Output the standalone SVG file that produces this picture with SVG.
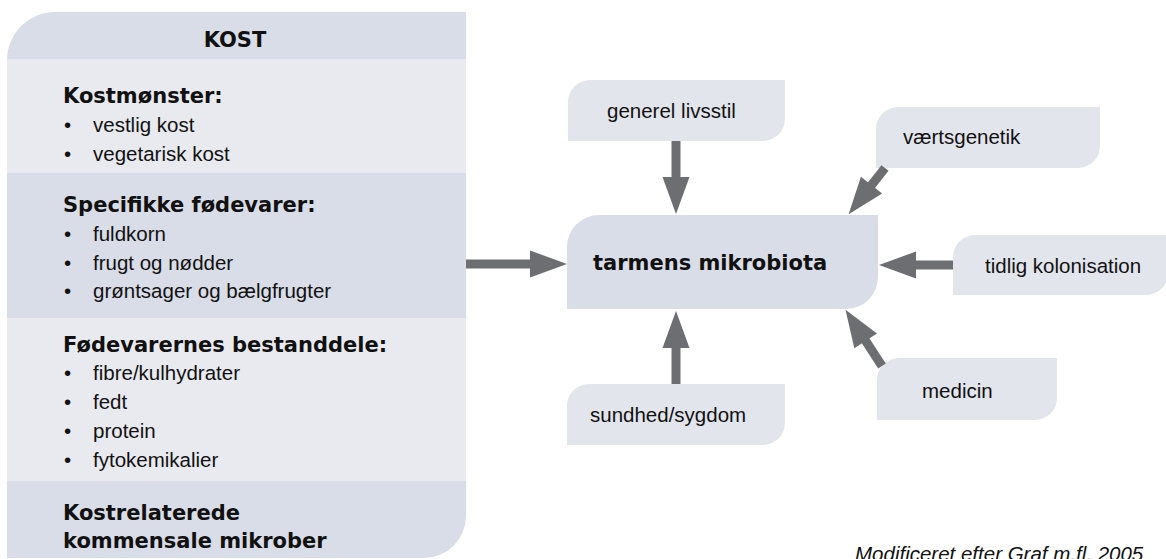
<svg xmlns="http://www.w3.org/2000/svg" width="1166" height="559" viewBox="0 0 1166 559">
<style>
.dark{fill:#d9dde7}
.light{fill:#e9eaf0}
.node{fill:#e3e5ed}
.core{fill:#d9dde7}
.b{font-family:"DejaVu Sans",sans-serif;font-weight:bold;font-size:21px;fill:#111}
.r{font-family:"Liberation Sans",Arial,sans-serif;font-size:20.5px;fill:#111}
.it{font-family:"Liberation Sans",Arial,sans-serif;font-style:italic;font-size:20.5px;fill:#111}
.conn line{stroke:#6d6e72;stroke-width:9;fill:none}
</style>
<defs>
<marker id="ah" markerUnits="userSpaceOnUse" markerWidth="40" markerHeight="30" refX="1" refY="13.5" orient="auto" overflow="visible">
<path d="M0,0 L37,13.5 L0,27 Z" fill="#6d6e72"/>
</marker>
</defs>
<rect width="1166" height="559" fill="#ffffff"/>

<g id="kost">
<path class="dark" d="M7,558 V60 A48,48 0 0 1 55,12 H466 V516 A42,42 0 0 1 424,558 Z"/>
<rect class="light" x="7" y="59" width="459" height="114"/>
<rect class="light" x="7" y="318" width="459" height="163"/>
<text class="b" x="235" y="47" text-anchor="middle" font-size="22">KOST</text>
<text class="b" x="63" y="103">Kostmønster:</text>
<text class="r" x="64" y="132">•</text><text class="r" x="93" y="132">vestlig kost</text>
<text class="r" x="64" y="161">•</text><text class="r" x="93" y="161">vegetarisk kost</text>
<text class="b" x="63" y="212">Specifikke fødevarer:</text>
<text class="r" x="64" y="241">•</text><text class="r" x="93" y="241">fuldkorn</text>
<text class="r" x="64" y="270">•</text><text class="r" x="93" y="270">frugt og nødder</text>
<text class="r" x="64" y="298">•</text><text class="r" x="93" y="298">grøntsager og bælgfrugter</text>
<text class="b" x="63" y="352">Fødevarernes bestanddele:</text>
<text class="r" x="64" y="380">•</text><text class="r" x="93" y="380">fibre/kulhydrater</text>
<text class="r" x="64" y="409">•</text><text class="r" x="93" y="409">fedt</text>
<text class="r" x="64" y="438">•</text><text class="r" x="93" y="438">protein</text>
<text class="r" x="64" y="467">•</text><text class="r" x="93" y="467">fytokemikalier</text>
<text class="b" x="63" y="520">Kostrelaterede</text>
<text class="b" x="63" y="548">kommensale mikrober</text>
</g>

<g id="tarmens">
<path class="core" d="M567,247 A32,32 0 0 1 599,215 H878 V277 A32,32 0 0 1 846,309 H567 Z"/>
<text class="b" x="593" y="270">tarmens mikrobiota</text>
</g>

<g id="generel">
<path class="node" d="M568,102 A22,22 0 0 1 590,80 H785 V119 A22,22 0 0 1 763,141 H568 Z"/>
<text class="r" x="607" y="118">generel livsstil</text>
</g>

<g id="vaertsgenetik">
<path class="node" d="M876,129 A22,22 0 0 1 898,107 H1100 V146 A22,22 0 0 1 1078,168 H876 Z"/>
<text class="r" x="903" y="144">værtsgenetik</text>
</g>

<g id="tidlig">
<path class="node" d="M953,257 A22,22 0 0 1 975,235 H1168 V273 A22,22 0 0 1 1146,295 H953 Z"/>
<text class="r" x="985" y="273">tidlig kolonisation</text>
</g>

<g id="medicin">
<path class="node" d="M877,380 A22,22 0 0 1 899,358 H1057 V398 A22,22 0 0 1 1035,420 H877 Z"/>
<text class="r" x="922" y="398">medicin</text>
</g>

<g id="sundhed">
<path class="node" d="M567,406 A22,22 0 0 1 589,384 H785 V423 A22,22 0 0 1 763,445 H567 Z"/>
<text class="r" x="590" y="422">sundhed/sygdom</text>
</g>

<g id="connectors" class="conn">
<line x1="466" y1="264" x2="531" y2="264" marker-end="url(#ah)"/>
<line x1="676" y1="141" x2="676" y2="178" marker-end="url(#ah)"/>
<line x1="676" y1="384" x2="676" y2="347" marker-end="url(#ah)"/>
<line x1="953" y1="265" x2="915" y2="265" marker-end="url(#ah)"/>
<line x1="885" y1="168" x2="870.9" y2="185.9" marker-end="url(#ah)"/>
<line x1="882" y1="366" x2="865.1" y2="340" marker-end="url(#ah)"/>
</g>

<text class="it" x="855" y="561">Modificeret efter Graf m.fl. 2005</text>
</svg>
